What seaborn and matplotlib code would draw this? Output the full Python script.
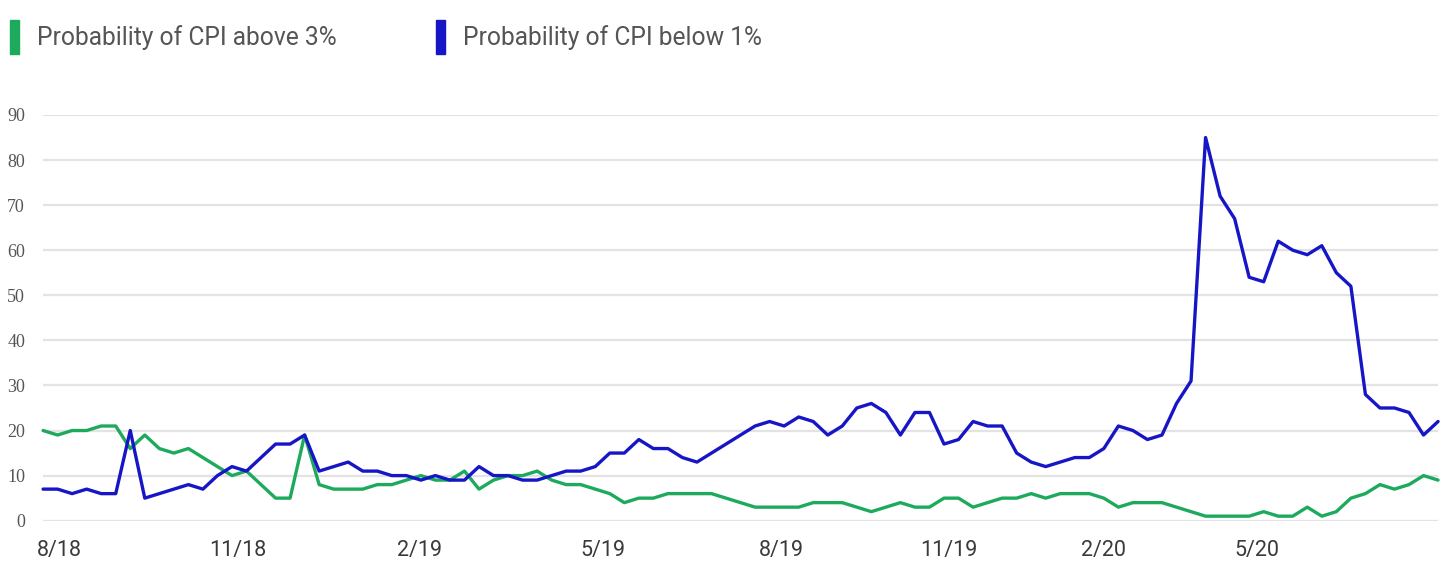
import matplotlib
matplotlib.use('Agg')
import matplotlib.pyplot as plt
from matplotlib.patches import Patch
import numpy as np
import pandas as pd
import seaborn as sns

above_3 = [20, 19, 20, 20, 21, 21, 16, 19, 16, 15, 16, 14, 12, 10, 11, 8, 5, 5,
           19, 8, 7, 7, 7, 8, 8, 9, 10, 9, 9, 11, 7, 9, 10, 10, 11, 9, 8, 8, 7,
           6, 4, 5, 5, 6, 6, 6, 6, 5, 4, 3, 3, 3, 3, 4, 4, 4, 3, 2, 3, 4, 3, 3,
           5, 5, 3, 4, 5, 5, 6, 5, 6, 6, 6, 5, 3, 4, 4, 4, 3, 2, 1, 1, 1, 1, 2,
           1, 1, 3, 1, 2, 5, 6, 8, 7, 8, 10, 9]
below_1 = [7, 7, 6, 7, 6, 6, 20, 5, 6, 7, 8, 7, 10, 12, 11, 14, 17, 17, 19, 11,
           12, 13, 11, 11, 10, 10, 9, 10, 9, 9, 12, 10, 10, 9, 9, 10, 11, 11,
           12, 15, 15, 18, 16, 16, 14, 13, 15, 17, 19, 21, 22, 21, 23, 22, 19,
           21, 25, 26, 24, 19, 24, 24, 17, 18, 22, 21, 21, 15, 13, 12, 13, 14,
           14, 16, 21, 20, 18, 19, 26, 31, 85, 72, 67, 54, 53, 62, 60, 59, 61,
           55, 52, 28, 25, 25, 24, 19, 22]
series_names = ['Probability of CPI above 3%', 'Probability of CPI below 1%']
tick_labels = ['8/18', '11/18', '2/19', '5/19', '8/19', '11/19', '2/20', '5/20']
tick_index = [1.1, 13.4, 25.9, 38.5, 50.8, 62.3, 73.0, 83.5]
y_ticks = [0, 10, 20, 30, 40, 50, 60, 70, 80, 90]

GREEN = '#1daa5c'
BLUE = '#1616c6'

df = pd.DataFrame({
    'obs': list(range(len(above_3))) * 2,
    'value': above_3 + below_1,
    'series': [series_names[0]] * len(above_3) + [series_names[1]] * len(below_1),
})

sns.set_theme(style='white')
sans = ['Roboto', 'DejaVu Sans']

fig = plt.figure(figsize=(14.45, 5.74), dpi=100)
ax = fig.add_axes([0.0298, 0.0929, 0.9654, 0.7068])

sns.lineplot(data=df, x='obs', y='value', hue='series',
             palette=[GREEN, BLUE], linewidth=2.4, legend=False, ax=ax,
             clip_on=False)

ax.set_xlim(0, len(above_3) - 1)
ax.set_ylim(0, 90)
ax.set_yticks(y_ticks)
ax.set_yticklabels([str(v) for v in y_ticks], family=['Liberation Serif', 'DejaVu Serif'],
                   fontsize=13, color='#555555')
ax.set_xticks(tick_index)
ax.set_xticklabels(tick_labels, family=sans, fontsize=15.5, color='#3a3a3a')
ax.tick_params(axis='y', length=0, pad=13)
ax.tick_params(axis='x', length=0, pad=14)
ax.grid(axis='y', color='#e3e3e3', linewidth=1.6)
ax.grid(axis='x', visible=False)
ax.set_axisbelow(True)
for s in ax.spines.values():
    s.set_visible(False)
ax.set_xlabel('')
ax.set_ylabel('')

# legend: tall narrow colour bars next to the labels
handles = [Patch(color=GREEN), Patch(color=BLUE)]
fig.legend(handles, series_names, loc='upper left', bbox_to_anchor=(0.0068, 0.966),
           ncol=2, frameon=False, handlelength=0.37, handleheight=1.8,
           handletextpad=0.73, columnspacing=4.05, borderpad=0, borderaxespad=0,
           prop={'family': sans, 'size': 17.7}, labelcolor='#555555')

fig.savefig('out.png', dpi=100)
